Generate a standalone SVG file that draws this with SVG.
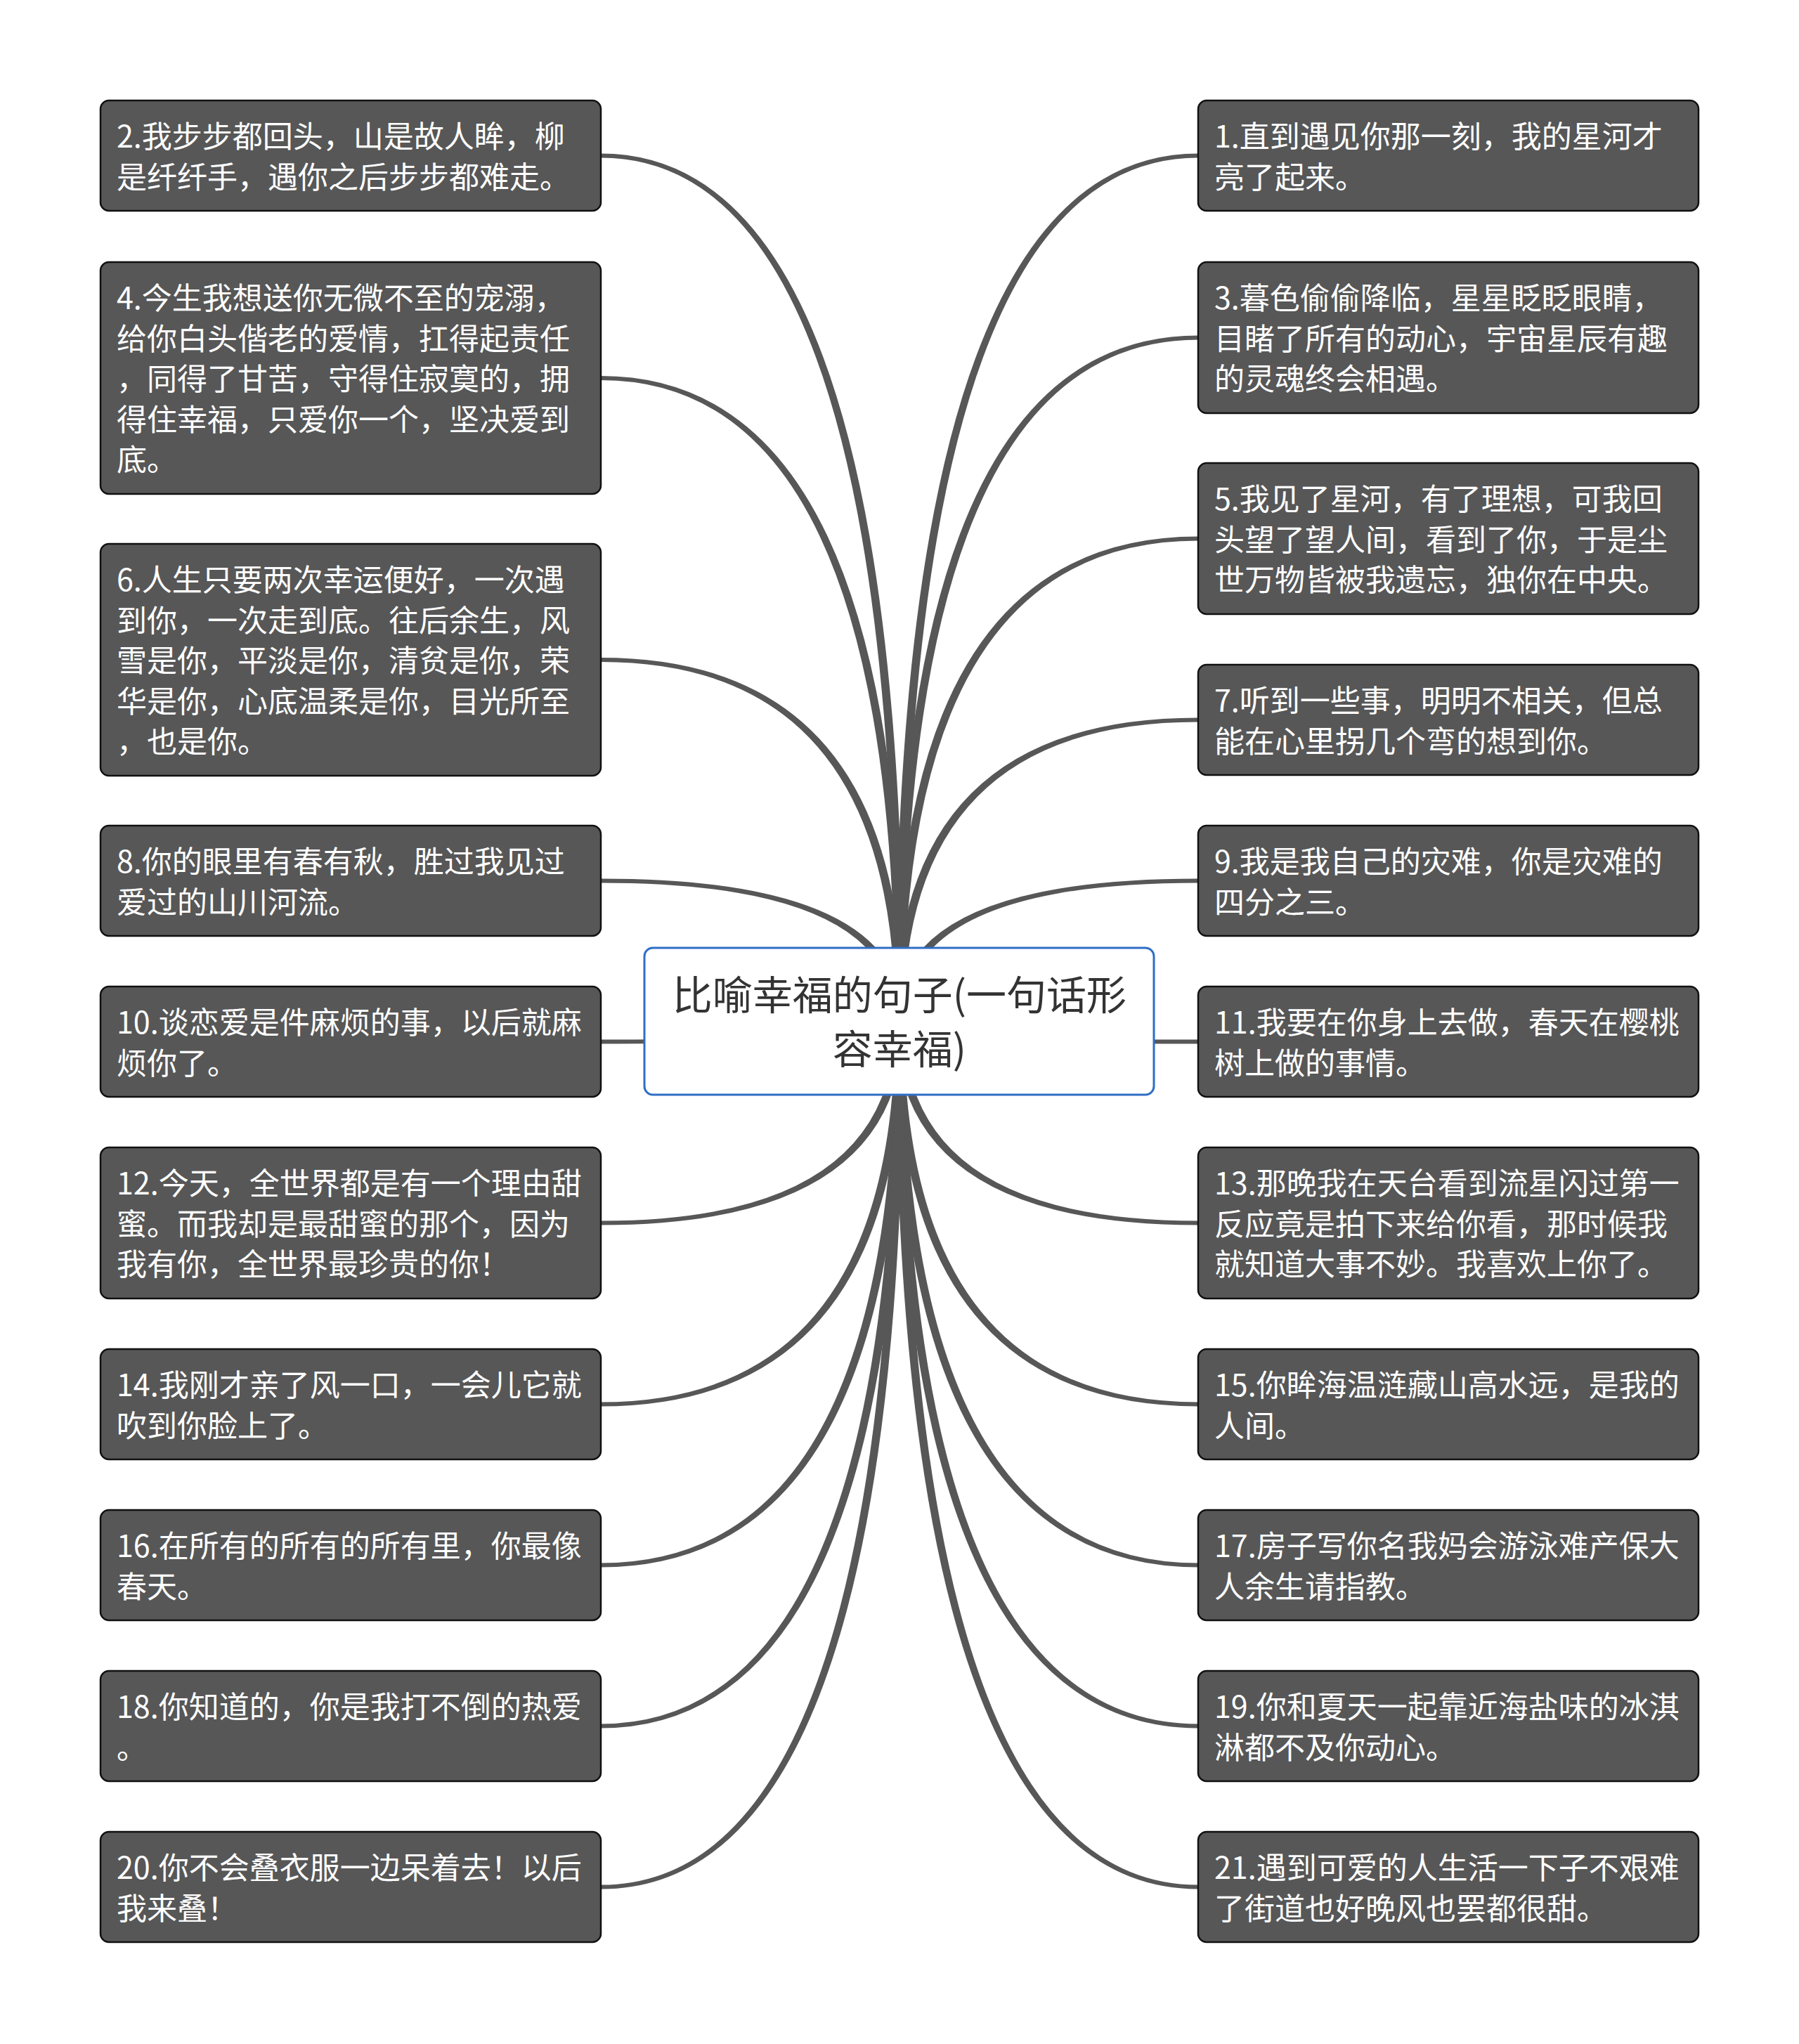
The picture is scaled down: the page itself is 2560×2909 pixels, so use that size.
<svg xmlns="http://www.w3.org/2000/svg" width="2560" height="2909" viewBox="0 0 2560 2909">
<style>
.conn{fill:#575757;stroke:none}
.node rect{fill:#575757;stroke:#111;stroke-width:2.5}
.node text{fill:#fff;font-family:"Noto Sans CJK SC","Noto Sans",sans-serif;font-size:43px}
.root rect{fill:#fff;stroke:#2f6ec6;stroke-width:3}
.root text{fill:#333;font-family:"Noto Sans CJK SC","Noto Sans",sans-serif;font-size:57px;text-anchor:middle}
</style>
<rect x="0" y="0" width="2560" height="2909" fill="#fff"/>
<g id="connectors">
<path class="conn" d="M1286 1453 Q1286 218.5 855 218.5 L855 224.5 Q1274 224.5 1274 1453Z"/>
<path class="conn" d="M1286 1453 Q1286 535 855 535 L855 541 Q1274 541 1274 1453Z"/>
<path class="conn" d="M1286 1453 Q1286 936 855 936 L855 942 Q1274 942 1274 1453Z"/>
<path class="conn" d="M1286 1453 Q1286 1250.5 855 1250.5 L855 1256.5 Q1274 1256.5 1274 1453Z"/>
<path class="conn" d="M1286 1453 Q1286 1485.5 855 1485.5 L855 1479.5 Q1274 1479.5 1274 1453Z"/>
<path class="conn" d="M1286 1453 Q1286 1743.5 855 1743.5 L855 1737.5 Q1274 1737.5 1274 1453Z"/>
<path class="conn" d="M1286 1453 Q1286 2001.5 855 2001.5 L855 1995.5 Q1274 1995.5 1274 1453Z"/>
<path class="conn" d="M1286 1453 Q1286 2230.5 855 2230.5 L855 2224.5 Q1274 2224.5 1274 1453Z"/>
<path class="conn" d="M1286 1453 Q1286 2459.5 855 2459.5 L855 2453.5 Q1274 2453.5 1274 1453Z"/>
<path class="conn" d="M1286 1453 Q1286 2688.5 855 2688.5 L855 2682.5 Q1274 2682.5 1274 1453Z"/>
<path class="conn" d="M1274 1453 Q1274 218.5 1705 218.5 L1705 224.5 Q1286 224.5 1286 1453Z"/>
<path class="conn" d="M1274 1453 Q1274 477.5 1705 477.5 L1705 483.5 Q1286 483.5 1286 1453Z"/>
<path class="conn" d="M1274 1453 Q1274 763.5 1705 763.5 L1705 769.5 Q1286 769.5 1286 1453Z"/>
<path class="conn" d="M1274 1453 Q1274 1021.5 1705 1021.5 L1705 1027.5 Q1286 1027.5 1286 1453Z"/>
<path class="conn" d="M1274 1453 Q1274 1250.5 1705 1250.5 L1705 1256.5 Q1286 1256.5 1286 1453Z"/>
<path class="conn" d="M1274 1453 Q1274 1485.5 1705 1485.5 L1705 1479.5 Q1286 1479.5 1286 1453Z"/>
<path class="conn" d="M1274 1453 Q1274 1743.5 1705 1743.5 L1705 1737.5 Q1286 1737.5 1286 1453Z"/>
<path class="conn" d="M1274 1453 Q1274 2001.5 1705 2001.5 L1705 1995.5 Q1286 1995.5 1286 1453Z"/>
<path class="conn" d="M1274 1453 Q1274 2230.5 1705 2230.5 L1705 2224.5 Q1286 2224.5 1286 1453Z"/>
<path class="conn" d="M1274 1453 Q1274 2459.5 1705 2459.5 L1705 2453.5 Q1286 2453.5 1286 1453Z"/>
<path class="conn" d="M1274 1453 Q1274 2688.5 1705 2688.5 L1705 2682.5 Q1286 2682.5 1286 1453Z"/>
</g>
<g id="root" class="root">
<rect x="917" y="1349" width="725" height="209" rx="12"/>
<text><tspan x="1280" y="1437">比喻幸福的句子(一句话形</tspan><tspan x="1280" y="1514">容幸福)</tspan></text>
</g>
<g id="n2" class="node"><rect x="143" y="143" width="712" height="157" rx="12"/>
<text><tspan x="166" y="210">2.我步步都回头，山是故人眸，柳</tspan><tspan x="166" y="267.5">是纤纤手，遇你之后步步都难走。</tspan></text></g>
<g id="n4" class="node"><rect x="143" y="373" width="712" height="330" rx="12"/>
<text><tspan x="166" y="440">4.今生我想送你无微不至的宠溺，</tspan><tspan x="166" y="497.5">给你白头偕老的爱情，扛得起责任</tspan><tspan x="166" y="555">，同得了甘苦，守得住寂寞的，拥</tspan><tspan x="166" y="612.5">得住幸福，只爱你一个，坚决爱到</tspan><tspan x="166" y="670">底。</tspan></text></g>
<g id="n6" class="node"><rect x="143" y="774" width="712" height="330" rx="12"/>
<text><tspan x="166" y="841">6.人生只要两次幸运便好，一次遇</tspan><tspan x="166" y="898.5">到你，一次走到底。往后余生，风</tspan><tspan x="166" y="956">雪是你，平淡是你，清贫是你，荣</tspan><tspan x="166" y="1013.5">华是你，心底温柔是你，目光所至</tspan><tspan x="166" y="1071">，也是你。</tspan></text></g>
<g id="n8" class="node"><rect x="143" y="1175" width="712" height="157" rx="12"/>
<text><tspan x="166" y="1242">8.你的眼里有春有秋，胜过我见过</tspan><tspan x="166" y="1299.5">爱过的山川河流。</tspan></text></g>
<g id="n10" class="node"><rect x="143" y="1404" width="712" height="157" rx="12"/>
<text><tspan x="166" y="1471">10.谈恋爱是件麻烦的事，以后就麻</tspan><tspan x="166" y="1528.5">烦你了。</tspan></text></g>
<g id="n12" class="node"><rect x="143" y="1633" width="712" height="215" rx="12"/>
<text><tspan x="166" y="1700">12.今天，全世界都是有一个理由甜</tspan><tspan x="166" y="1757.5">蜜。而我却是最甜蜜的那个，因为</tspan><tspan x="166" y="1815">我有你，全世界最珍贵的你！</tspan></text></g>
<g id="n14" class="node"><rect x="143" y="1920" width="712" height="157" rx="12"/>
<text><tspan x="166" y="1987">14.我刚才亲了风一口，一会儿它就</tspan><tspan x="166" y="2044.5">吹到你脸上了。</tspan></text></g>
<g id="n16" class="node"><rect x="143" y="2149" width="712" height="157" rx="12"/>
<text><tspan x="166" y="2216">16.在所有的所有的所有里，你最像</tspan><tspan x="166" y="2273.5">春天。</tspan></text></g>
<g id="n18" class="node"><rect x="143" y="2378" width="712" height="157" rx="12"/>
<text><tspan x="166" y="2445">18.你知道的，你是我打不倒的热爱</tspan><tspan x="166" y="2502.5">。</tspan></text></g>
<g id="n20" class="node"><rect x="143" y="2607" width="712" height="157" rx="12"/>
<text><tspan x="166" y="2674">20.你不会叠衣服一边呆着去！以后</tspan><tspan x="166" y="2731.5">我来叠！</tspan></text></g>
<g id="n1" class="node"><rect x="1705" y="143" width="712" height="157" rx="12"/>
<text><tspan x="1728" y="210">1.直到遇见你那一刻，我的星河才</tspan><tspan x="1728" y="267.5">亮了起来。</tspan></text></g>
<g id="n3" class="node"><rect x="1705" y="373" width="712" height="215" rx="12"/>
<text><tspan x="1728" y="440">3.暮色偷偷降临，星星眨眨眼睛，</tspan><tspan x="1728" y="497.5">目睹了所有的动心，宇宙星辰有趣</tspan><tspan x="1728" y="555">的灵魂终会相遇。</tspan></text></g>
<g id="n5" class="node"><rect x="1705" y="659" width="712" height="215" rx="12"/>
<text><tspan x="1728" y="726">5.我见了星河，有了理想，可我回</tspan><tspan x="1728" y="783.5">头望了望人间，看到了你，于是尘</tspan><tspan x="1728" y="841">世万物皆被我遗忘，独你在中央。</tspan></text></g>
<g id="n7" class="node"><rect x="1705" y="946" width="712" height="157" rx="12"/>
<text><tspan x="1728" y="1013">7.听到一些事，明明不相关，但总</tspan><tspan x="1728" y="1070.5">能在心里拐几个弯的想到你。</tspan></text></g>
<g id="n9" class="node"><rect x="1705" y="1175" width="712" height="157" rx="12"/>
<text><tspan x="1728" y="1242">9.我是我自己的灾难，你是灾难的</tspan><tspan x="1728" y="1299.5">四分之三。</tspan></text></g>
<g id="n11" class="node"><rect x="1705" y="1404" width="712" height="157" rx="12"/>
<text><tspan x="1728" y="1471">11.我要在你身上去做，春天在樱桃</tspan><tspan x="1728" y="1528.5">树上做的事情。</tspan></text></g>
<g id="n13" class="node"><rect x="1705" y="1633" width="712" height="215" rx="12"/>
<text><tspan x="1728" y="1700">13.那晚我在天台看到流星闪过第一</tspan><tspan x="1728" y="1757.5">反应竟是拍下来给你看，那时候我</tspan><tspan x="1728" y="1815">就知道大事不妙。我喜欢上你了。</tspan></text></g>
<g id="n15" class="node"><rect x="1705" y="1920" width="712" height="157" rx="12"/>
<text><tspan x="1728" y="1987">15.你眸海温涟藏山高水远，是我的</tspan><tspan x="1728" y="2044.5">人间。</tspan></text></g>
<g id="n17" class="node"><rect x="1705" y="2149" width="712" height="157" rx="12"/>
<text><tspan x="1728" y="2216">17.房子写你名我妈会游泳难产保大</tspan><tspan x="1728" y="2273.5">人余生请指教。</tspan></text></g>
<g id="n19" class="node"><rect x="1705" y="2378" width="712" height="157" rx="12"/>
<text><tspan x="1728" y="2445">19.你和夏天一起靠近海盐味的冰淇</tspan><tspan x="1728" y="2502.5">淋都不及你动心。</tspan></text></g>
<g id="n21" class="node"><rect x="1705" y="2607" width="712" height="157" rx="12"/>
<text><tspan x="1728" y="2674">21.遇到可爱的人生活一下子不艰难</tspan><tspan x="1728" y="2731.5">了街道也好晚风也罢都很甜。</tspan></text></g>
</svg>
